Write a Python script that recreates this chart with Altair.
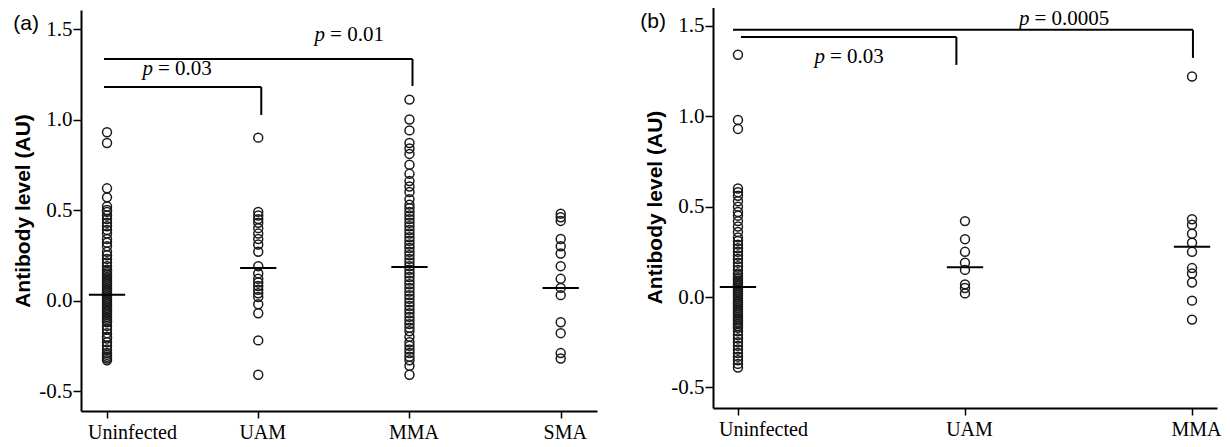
import altair as alt
import pandas as pd

# ---------------- data ----------------
CATS_A = ["Uninfected", "UAM", "MMA", "SMA"]
CATS_B = ["Uninfected", "UAM", "MMA"]

A_UNINFECTED = [0.93, 0.87, 0.62, 0.57, 0.52, 0.50, 0.49, 0.47, 0.45, 0.43, 0.41, 0.39,
                0.37, 0.34, 0.32, 0.30, 0.27, 0.25, 0.23, 0.21, 0.19, 0.17, 0.16, 0.15,
                0.14, 0.13, 0.12, 0.11, 0.10, 0.09, 0.08, 0.07, 0.06, 0.05, 0.04, 0.03,
                0.02, 0.01, 0.00, -0.01, -0.02, -0.03, -0.04, -0.05, -0.06, -0.07, -0.08,
                -0.09, -0.10, -0.11, -0.12, -0.14, -0.16, -0.18, -0.20, -0.21, -0.23,
                -0.25, -0.27, -0.29, -0.30, -0.31, -0.32, -0.33]
A_UAM = [0.90, 0.49, 0.47, 0.45, 0.43, 0.40, 0.37, 0.34, 0.31, 0.27, 0.19, 0.15, 0.12,
         0.10, 0.08, 0.06, 0.04, 0.02, -0.02, -0.07, -0.22, -0.41]
A_MMA = [1.11, 1.00, 0.94, 0.87, 0.84, 0.81, 0.75, 0.70, 0.66, 0.63, 0.60, 0.56, 0.53,
         0.51, 0.49, 0.47, 0.45, 0.43, 0.41, 0.39, 0.37, 0.35, 0.33, 0.31, 0.29, 0.27,
         0.25, 0.23, 0.21, 0.19, 0.17, 0.15, 0.13, 0.11, 0.09, 0.07, 0.05, 0.03, 0.01,
         -0.01, -0.03, -0.05, -0.07, -0.09, -0.11, -0.13, -0.15, -0.17, -0.20, -0.23,
         -0.25, -0.27, -0.29, -0.31, -0.33, -0.36, -0.41]
A_SMA = [0.48, 0.46, 0.44, 0.34, 0.30, 0.26, 0.19, 0.12, 0.07, 0.03, -0.12, -0.18,
         -0.29, -0.32]

B_UNINFECTED = [1.34, 0.98, 0.93, 0.60, 0.58, 0.56, 0.53, 0.50, 0.47, 0.45, 0.42, 0.39,
                0.36, 0.33, 0.31, 0.29, 0.27, 0.25, 0.23, 0.21, 0.19, 0.17, 0.15, 0.13,
                0.12, 0.11, 0.10, 0.09, 0.08, 0.07, 0.06, 0.05, 0.04, 0.03, 0.02, 0.01,
                0.00, -0.01, -0.02, -0.03, -0.04, -0.05, -0.06, -0.07, -0.08, -0.09,
                -0.10, -0.11, -0.12, -0.13, -0.14, -0.15, -0.16, -0.17, -0.19, -0.21,
                -0.23, -0.25, -0.27, -0.29, -0.31, -0.33, -0.35, -0.37, -0.39]
B_UAM = [0.42, 0.32, 0.25, 0.19, 0.15, 0.07, 0.05, 0.02]
B_MMA = [1.22, 0.43, 0.40, 0.35, 0.30, 0.25, 0.16, 0.13, 0.08, -0.02, -0.125]

MEANS_A = [0.032, 0.18, 0.185, 0.07]
MEANS_B = [0.055, 0.165, 0.278]

BRK_A_X1 = [-0.02, -0.02]
BRK_A_X2 = [1.02, 2.02]
BRK_A_Y = [1.18, 1.334]
BRK_A_YEND = [1.025, 1.185]
BRK_B_X1 = [0.013, -0.022]
BRK_B_X2 = [0.962, 2.004]
BRK_B_Y = [1.439, 1.478]
BRK_B_YEND = [1.284, 1.323]

P_A_X = [0.324, 1.462]
P_A_Y = [1.279, 1.467]
P_A_VAL = ["0.03", "0.01"]
P_B_X = [0.396, 1.297]
P_B_Y = [1.328, 1.538]
P_B_VAL = ["0.03", "0.0005"]

TAG_A = ("(a)", -0.535, 1.528)
TAG_B = ("(b)", -0.374, 1.522)

Y_TICKS = [-0.5, 0.0, 0.5, 1.0, 1.5]
Y_TITLE = "Antibody level (AU)"

SERIF = "Liberation Serif"
SANS = "Liberation Sans"


def build(groups, cats, means, bx1, bx2, by, byend, px, py, pval, tag,
          width, height, xdom, ydom, hw, range_top=None):
    pts = pd.DataFrame([{"idx": i, "value": v} for i, g in enumerate(groups) for v in g])
    mdf = pd.DataFrame({"idx": list(range(len(cats))), "mean": means})
    bdf = pd.DataFrame({"bx1": bx1, "bx2": bx2, "by": by, "byend": byend})
    pdf = pd.DataFrame({"px": px, "py": py, "ptxt": ["p"] * len(pval),
                        "rest": ["= " + v for v in pval]})
    tdf = pd.DataFrame({"tx": [tag[1]], "ty": [tag[2]], "t": [tag[0]]})

    sx = alt.Scale(domain=xdom, nice=False, zero=False)
    if range_top is not None:
        sy = alt.Scale(domain=ydom, nice=False, zero=False, rangeMax=range_top)
    else:
        sy = alt.Scale(domain=ydom, nice=False, zero=False)

    label_expr = "[" + ",".join("'%s'" % c for c in cats) + "][datum.value]"
    xaxis = alt.Axis(values=list(range(len(cats))), labelExpr=label_expr, title=None,
                     grid=False, tickSize=7, tickWidth=1.5, tickColor="black",
                     domainColor="black", domainWidth=2, labelFont=SERIF,
                     labelFontSize=20, labelColor="black", labelPadding=4,
                     labelFlush=False, labelOverlap=False,
                     labelOffset={"condition": {"test": "datum.value == 0", "value": 25},
                                  "value": 4})
    yaxis = alt.Axis(values=Y_TICKS,
                     labelExpr="datum.value < 0 ? '-' + format(-datum.value, '.1f') : format(datum.value, '.1f')",
                     title=Y_TITLE, titleFont=SANS, titleFontWeight="bold",
                     titleFontSize=21, titleColor="black", titleX=-48,
                     grid=False, tickSize=8, tickWidth=1.5, tickColor="black",
                     domainColor="black", domainWidth=2, labelFont=SERIF,
                     labelFontSize=21, labelColor="black", labelPadding=1)

    def X(f):
        return alt.X(f, scale=sx, axis=xaxis, title=None)

    def Y(f):
        return alt.Y(f, scale=sy, axis=yaxis, title=Y_TITLE)

    points = alt.Chart(pts).mark_point(shape="circle", filled=False, size=80,
                                       strokeWidth=1.5, color="#1a1a1a", opacity=1).encode(
        x=X("idx:Q"), y=Y("value:Q"),
    )
    meanl = alt.Chart(mdf).transform_calculate(
        lo="datum.idx - %f" % hw, hi="datum.idx + %f" % hw
    ).mark_rule(color="black", strokeWidth=2).encode(
        x=X("lo:Q"), x2="hi:Q", y=Y("mean:Q"),
    )
    bh = alt.Chart(bdf).mark_rule(color="black", strokeWidth=2).encode(
        x=X("bx1:Q"), x2="bx2:Q", y=Y("by:Q"),
    )
    bv = alt.Chart(bdf).mark_rule(color="black", strokeWidth=2).encode(
        x=X("bx2:Q"), y=Y("by:Q"), y2="byend:Q",
    )
    ptxt = alt.Chart(pdf).mark_text(align="right", dx=-3, baseline="middle", font=SERIF,
                                    fontStyle="italic", fontSize=21, color="black").encode(
        x=X("px:Q"), y=Y("py:Q"), text="ptxt:N",
    )
    rtxt = alt.Chart(pdf).mark_text(align="left", dx=2, baseline="middle", font=SERIF,
                                    fontSize=21, color="black").encode(
        x=X("px:Q"), y=Y("py:Q"), text="rest:N",
    )
    tg = alt.Chart(tdf).mark_text(align="center", baseline="middle", font=SANS,
                                  fontSize=21, color="black").encode(
        x=X("tx:Q"), y=Y("ty:Q"), text="t:N",
    )
    return alt.layer(points, meanl, bh, bv, ptxt, rtxt, tg).properties(width=width, height=height)


pa = build([A_UNINFECTED, A_UAM, A_MMA, A_SMA], CATS_A, MEANS_A,
           BRK_A_X1, BRK_A_X2, BRK_A_Y, BRK_A_YEND, P_A_X, P_A_Y, P_A_VAL, TAG_A,
           width=516, height=405, xdom=[-0.172, 3.24], ydom=[-0.61, 1.605],
           hw=0.12, range_top=4)
pb = build([B_UNINFECTED, B_UAM, B_MMA], CATS_B, MEANS_B,
           BRK_B_X1, BRK_B_X2, BRK_B_Y, BRK_B_YEND, P_B_X, P_B_Y, P_B_VAL, TAG_B,
           width=504, height=402, xdom=[-0.11, 2.11], ydom=[-0.614, 1.61],
           hw=0.08)

chart = alt.hconcat(pa, pb, spacing=116, bounds="flush").properties(
    padding={"left": 4, "top": -2, "right": 0, "bottom": 0},
    background="white",
).configure_view(stroke=None)

chart.save("out.html", embed_options={"renderer": "svg", "actions": False})
